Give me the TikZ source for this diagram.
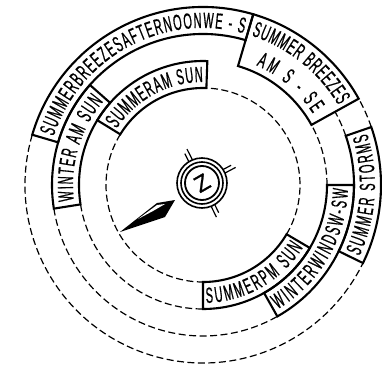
\documentclass[tikz,border=0pt]{standalone}
\usepackage{fontspec}
\newfontfamily\bandfont[FakeStretch=0.5,FakeBold=0.6]{Liberation Sans}
\newfontfamily\northfont[FakeBold=1]{Liberation Sans}
\usetikzlibrary{decorations.text}

\begin{document}
\begin{tikzpicture}[x=1pt,y=1pt,
  band/.style={draw=black,line width=2.1pt,line join=miter},
  ring/.style={draw=black,line width=1.2pt,dash pattern=on 7pt off 3.5pt},
  tick/.style={draw=black,line width=1.2pt},
  label/.style={decorate,decoration={text along path,text align={fit to path},
    text={|\bandfont\fontsize{22}{22}\selectfont|#1}}}]
\useasboundingbox (-203,-185) rectangle (179,185);
% dashed rests of the rings
\foreach \r/\a/\b in {178/163.6/334, 178/19/29, 151/189/299.5, 151/19/29, 124/189/270, 124/0/29,
  97/148.5/270, 97/-30.5/88}
  \draw[ring] (\a:\r) arc[start angle=\a,end angle=\b,radius=\r];
% solid bands
\foreach \ri/\ro/\a/\b in {151/178/163.6/73.6, 124/178/73.6/29, 151/178/19/-26, 124/151/0/-60.5,
  97/124/-30.5/-90, 124/151/189/138.5, 97/124/148.5/88}
  \draw[band] (\a:\ri) arc[start angle=\a,end angle=\b,radius=\ri] -- (\b:\ro)
    arc[start angle=\b,end angle=\a,radius=\ro] -- cycle;
% labels
\path[label=SUMMERBREEZESAFTERNOONWE - S] (162:157) arc[start angle=162,end angle=75,radius=157];
\path[label=SUMMER BREEZES] (72:157) arc[start angle=72,end angle=30.5,radius=157];
\path[label=AM S - SE] (66:131) arc[start angle=66,end angle=33,radius=131];
\path[label=WINTER AM SUN] (187:130) arc[start angle=187,end angle=140,radius=130];
\path[label=SUMMERAM SUN] (147:103) arc[start angle=147,end angle=90,radius=103];
\path[label=SUMMER STORMS] (-24.5:172) arc[start angle=-24.5,end angle=17.5,radius=172];
\path[label=WINTERWINDSW-SW] (-59:145) arc[start angle=-59,end angle=-1.5,radius=145];
\path[label=SUMMERPM SUN] (-88.5:118) arc[start angle=-88.5,end angle=-32,radius=118];
% compass
\begin{scope}[shift={(-1,2)}]
\foreach \r/\w in {25/1.6,21/1.6,17/1.8}
  \draw[line width=\w pt] (0,0) circle[radius=\r];
\foreach \t in {117,28,-64} {
  \draw[tick,rotate=\t] (25,-2) -- (37,-2);
  \draw[tick,rotate=\t] (25,2) -- (34,2);
}
\node[font=\northfont\fontsize{23}{23}\selectfont,rotate=30,inner sep=0pt] (north) at (0,0) {Z};
\end{scope}
% pointer
\fill (-28,-15) -- (-46,-18) -- (-83,-47) -- (-38,-32) -- cycle;
\fill[white] (-65,-34) -- (-46,-20) -- (-38,-19) -- (-50,-26) -- cycle;
\end{tikzpicture}
\end{document}
